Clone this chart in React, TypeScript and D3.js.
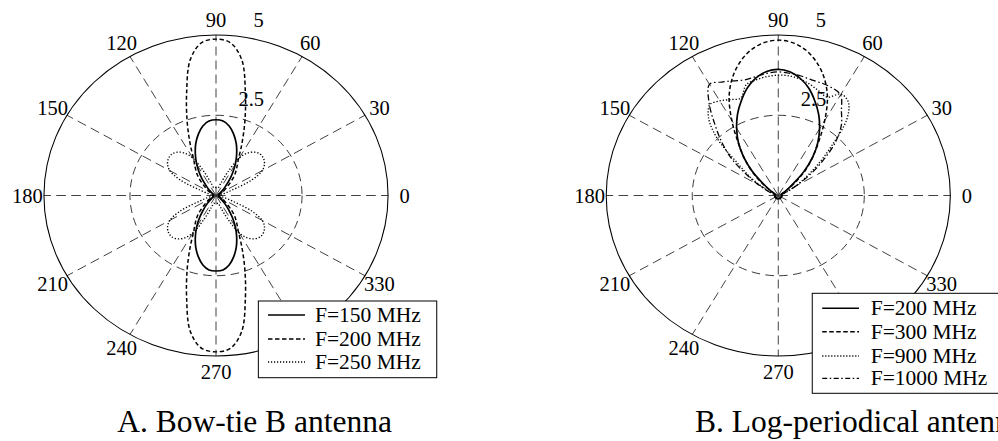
import React, { useEffect, useState } from "react";
import * as d3 from "d3";

const W = 998;
const H = 441;
const SX = 1.072; // source figure is stretched a bit horizontally
const R = 160.5;
const CY = 195.5;
const FONT = '"Liberation Serif", "Times New Roman", Tinos, "Nimbus Roman", FreeSerif';

// sampling angles of the patterns (degrees, counter-clockwise from east)
const ANGLES = d3.range(0, 360, 5);
const ANGLE_TICKS = [0, 30, 60, 90, 120, 150, 180, 210, 240, 270, 300, 330];
const R_TICKS = [2.5, 5];
const R_TICK_LABELS = ["2.5", "5"];

// A. Bow-tie B antenna
const bt150 = [
  0.08, 0.08, 0.08, 0.08, 0.08, 0.08,
  0.1, 0.14, 0.22, 0.36, 0.56, 0.82, 1.12, 1.42, 1.72, 1.98, 2.2, 2.33, 2.36,
  2.33, 2.2, 1.98, 1.72, 1.42, 1.12, 0.82, 0.56, 0.36, 0.22, 0.14, 0.1,
  0.08, 0.08, 0.08, 0.08, 0.08, 0.08, 0.08, 0.08, 0.08, 0.08, 0.08,
  0.1, 0.14, 0.22, 0.36, 0.56, 0.82, 1.12, 1.42, 1.72, 1.98, 2.2, 2.33, 2.35,
  2.33, 2.2, 1.98, 1.72, 1.42, 1.12, 0.82, 0.56, 0.36, 0.22, 0.14, 0.1,
  0.08, 0.08, 0.08, 0.08, 0.08,
];
const bt200 = [
  0.08, 0.08, 0.08, 0.08, 0.1, 0.14, 0.2, 0.3, 0.42, 0.62, 0.85, 1.05, 1.3, 1.78,
  2.45, 3.3, 4.3, 4.78, 4.87, 4.78, 4.3, 3.3, 2.45, 1.78, 1.3, 1.05, 0.85, 0.62,
  0.42, 0.3, 0.2, 0.14, 0.1, 0.08, 0.08, 0.08, 0.08, 0.08, 0.08, 0.08, 0.1, 0.14,
  0.2, 0.3, 0.42, 0.62, 0.85, 1.05, 1.3, 1.78, 2.45, 3.3, 4.3, 4.78, 4.87, 4.78,
  4.3, 3.3, 2.45, 1.78, 1.3, 1.05, 0.85, 0.62, 0.42, 0.3, 0.2, 0.14, 0.1, 0.08,
  0.08, 0.08,
];
const bt250 = [
  0.15, 0.15, 0.15, 0.25, 0.5, 1.15, 1.55, 1.72, 1.8, 1.82, 1.76, 1.62, 1.35, 0.8,
  0.4, 0.25, 0.25, 0.25, 0.25, 0.25, 0.25, 0.25, 0.4, 0.8, 1.35, 1.62, 1.76, 1.82,
  1.8, 1.72, 1.55, 1.15, 0.5, 0.25, 0.15, 0.15, 0.15, 0.15, 0.15, 0.25, 0.5, 1.15,
  1.55, 1.72, 1.8, 1.82, 1.76, 1.62, 1.35, 0.8, 0.4, 0.25, 0.25, 0.25, 0.25, 0.25,
  0.25, 0.25, 0.4, 0.8, 1.35, 1.62, 1.76, 1.82, 1.8, 1.72, 1.55, 1.15, 0.5, 0.25,
  0.15, 0.15,
];

// B. Log-periodical antenna
const lp200 = [
  0.1, 0.1, 0.1, 0.1, 0.1, 0.1, 0.15, 0.3, 0.55, 1.05, 1.55, 2.0, 2.4, 2.78,
  3.12, 3.45, 3.7, 3.87, 3.93, 3.88, 3.72, 3.47, 3.14, 2.8, 2.42, 2.02, 1.57,
  1.07, 0.57, 0.3, 0.15, 0.1, 0.1, 0.1, 0.1, 0.1, 0.1, 0.1, 0.1, 0.1, 0.1, 0.1,
  0.1, 0.1, 0.1, 0.1, 0.1, 0.1, 0.1, 0.1, 0.1, 0.1, 0.1, 0.1, 0.1, 0.1, 0.1, 0.1,
  0.1, 0.1, 0.1, 0.1, 0.1, 0.1, 0.1, 0.1, 0.1, 0.1, 0.1, 0.1, 0.1, 0.1,
];
const lp300 = [
  0.1, 0.1, 0.1, 0.1, 0.1, 0.1, 0.16, 0.35, 0.68, 1.12, 1.55, 2.05, 2.7, 3.38,
  3.9, 4.3, 4.6, 4.78, 4.84, 4.78, 4.6, 4.3, 3.9, 3.38, 2.7, 2.05, 1.55, 1.12,
  0.68, 0.35, 0.16, 0.1, 0.1, 0.1, 0.1, 0.1, 0.1, 0.1, 0.1, 0.1, 0.1, 0.1, 0.1,
  0.1, 0.1, 0.1, 0.1, 0.1, 0.1, 0.1, 0.1, 0.1, 0.1, 0.1, 0.1, 0.1, 0.1, 0.1, 0.1,
  0.1, 0.1, 0.1, 0.1, 0.1, 0.1, 0.1, 0.1, 0.1, 0.1, 0.1, 0.1, 0.1,
];
const lp900 = [
  0.1, 0.1, 0.1, 0.1, 0.15, 0.3, 0.55, 0.95, 1.5, 2.2, 3.1, 3.55, 3.65, 3.38,
  3.46, 3.58, 3.68, 3.74, 3.75, 3.72, 3.66, 3.58, 3.22, 3.3, 3.4, 3.46, 3.15,
  2.5, 1.5, 1.0, 0.55, 0.3, 0.15, 0.1, 0.1, 0.1, 0.1, 0.1, 0.1, 0.1, 0.1, 0.1,
  0.1, 0.1, 0.1, 0.1, 0.1, 0.1, 0.1, 0.1, 0.1, 0.1, 0.1, 0.1, 0.1, 0.1, 0.1, 0.1,
  0.1, 0.1, 0.1, 0.1, 0.1, 0.1, 0.1, 0.1, 0.1, 0.1, 0.1, 0.1, 0.1, 0.1,
];
const lp1000 = [
  0.1, 0.1, 0.1, 0.1, 0.15, 0.3, 0.6, 1.1, 1.7, 2.35, 2.85, 3.2, 3.62, 3.7,
  3.72, 3.73, 3.78, 3.82, 3.85, 3.82, 3.76, 3.73, 3.8, 3.9, 4.0, 3.5, 2.85, 2.3,
  1.75, 1.1, 0.65, 0.35, 0.18, 0.1, 0.1, 0.1, 0.1, 0.1, 0.1, 0.1, 0.1, 0.1, 0.1,
  0.1, 0.1, 0.1, 0.1, 0.1, 0.1, 0.1, 0.1, 0.1, 0.1, 0.1, 0.1, 0.1, 0.1, 0.1, 0.1,
  0.1, 0.1, 0.1, 0.1, 0.1, 0.1, 0.1, 0.1, 0.1, 0.1, 0.1, 0.1, 0.1,
];

const btNames = ["F=150 MHz", "F=200 MHz", "F=250 MHz"];
const lpNames = ["F=200 MHz", "F=300 MHz", "F=900 MHz", "F=1000 MHz"];

const STYLES = [
  { dash: "none", width: 1.6, legendDash: "none" },
  { dash: "4,2.5", width: 1.4, legendDash: "4.5,2.5" },
  { dash: "1.2,1.8", width: 1.3, legendDash: "1.2,1.8" },
  { dash: "6,2.5,1.5,2.5", width: 1.2, legendDash: "5,2.5,1.5,2.5" },
];

const rScale = d3.scaleLinear().domain([0, 5]).range([0, R]);
const rad = (deg: number) => (deg * Math.PI) / 180;

const radial = d3
  .lineRadial<[number, number]>()
  .angle((d) => rad(90 - d[0]))
  .radius((d) => rScale(d[1]))
  .curve(d3.curveCatmullRomClosed.alpha(0.5));

type Legend = { x: number; y: number; w: number; h: number; rows: number[]; lineX: [number, number]; textX: number };

const txt = (size: number): React.CSSProperties => ({ fontFamily: FONT, fontSize: `${size}px` });

// shapes are drawn in a horizontally stretched group; texts stay unstretched
const Polar: React.FC<{
  cx: number;
  series: number[][];
  names: string[];
  legend: Legend;
  caption: string;
  captionX: number;
}> = ({ cx, series, names, legend, caption, captionX }) => {
  const sx = (x: number) => x * SX;
  return (
    <g>
      <g transform={`scale(${SX},1)`}>
        <g transform={`translate(${cx},${CY})`}>
          {ANGLE_TICKS.map((a) => (
            <line
              key={"s" + a}
              x1={0}
              y1={0}
              x2={rScale(5) * Math.cos(rad(a))}
              y2={-rScale(5) * Math.sin(rad(a))}
              stroke="#333"
              strokeWidth={0.9}
              strokeDasharray="9,5"
            />
          ))}
          <circle r={rScale(2.5)} fill="none" stroke="#111" strokeWidth={0.8} strokeDasharray="8,5" />
          <circle r={rScale(5)} fill="none" stroke="#000" strokeWidth={1} />
          {series.map((vals, i) => (
            <path
              key={"p" + i}
              d={radial(ANGLES.map((a, j) => [a, vals[j]] as [number, number])) || ""}
              fill="none"
              stroke="#000"
              strokeWidth={STYLES[i].width}
              strokeDasharray={STYLES[i].dash}
            />
          ))}
        </g>
      </g>
      {ANGLE_TICKS.map((a) => (
        <text
          key={"t" + a}
          x={sx(cx + (rScale(5) + 15.5) * Math.cos(rad(a)))}
          y={CY - (rScale(5) + 15.5) * Math.sin(rad(a))}
          textAnchor="middle"
          dominantBaseline="central"
          style={txt(20.5)}
        >
          {a}
        </text>
      ))}
      {R_TICKS.map((r, i) => (
        <text
          key={"r" + r}
          x={sx(cx + rScale(r) * Math.cos(rad(80)) + 7)}
          y={CY - rScale(r) * Math.sin(rad(80)) - 10}
          style={txt(20.5)}
        >
          {R_TICK_LABELS[i]}
        </text>
      ))}
      <rect
        x={sx(legend.x)}
        y={legend.y}
        width={legend.w * SX}
        height={legend.h}
        fill="#fff"
        stroke="#000"
        strokeWidth={1}
      />
      {names.map((n, i) => (
        <g key={"l" + i}>
          <line
            x1={sx(legend.lineX[0])}
            x2={sx(legend.lineX[1])}
            y1={legend.rows[i]}
            y2={legend.rows[i]}
            stroke="#000"
            strokeWidth={STYLES[i].width}
            strokeDasharray={STYLES[i].legendDash}
          />
          <text x={sx(legend.textX)} y={legend.rows[i] + 7} style={txt(21.5)}>
            {n}
          </text>
        </g>
      ))}
      <text x={sx(captionX)} y={431.5} style={txt(31.5)}>
        {caption}
      </text>
    </g>
  );
};

export default function App() {
  // re-mount the figure once the serif face is available
  const [fontsReady, setFontsReady] = useState(0);
  useEffect(() => {
    const fonts = (document as any).fonts;
    if (fonts && fonts.load) {
      fonts
        .load('20px "Liberation Serif"')
        .then(() => setFontsReady(1))
        .catch(() => setFontsReady(1));
    }
  }, []);

  return (
    <svg
      key={fontsReady}
      width={W}
      height={H}
      style={{ position: "absolute", left: 0, top: 0, background: "#fff", fontFamily: FONT }}
    >
      <Polar
        cx={201.5}
        series={[bt150, bt200, bt250]}
        names={btNames}
        legend={{ x: 241, y: 301, w: 166.4, h: 76.7, rows: [315, 339, 362], lineX: [250, 284.5], textX: 293.8 }}
        caption="A. Bow-tie B antenna"
        captionX={109.4}
      />
      <Polar
        cx={726}
        series={[lp200, lp300, lp900, lp1000]}
        names={lpNames}
        legend={{ x: 757.7, y: 293.3, w: 210, h: 100, rows: [308.3, 331.7, 356, 378.3], lineX: [767, 801.3], textX: 812.2 }}
        caption="B. Log-periodical antenna"
        captionX={648.3}
      />
    </svg>
  );
}
